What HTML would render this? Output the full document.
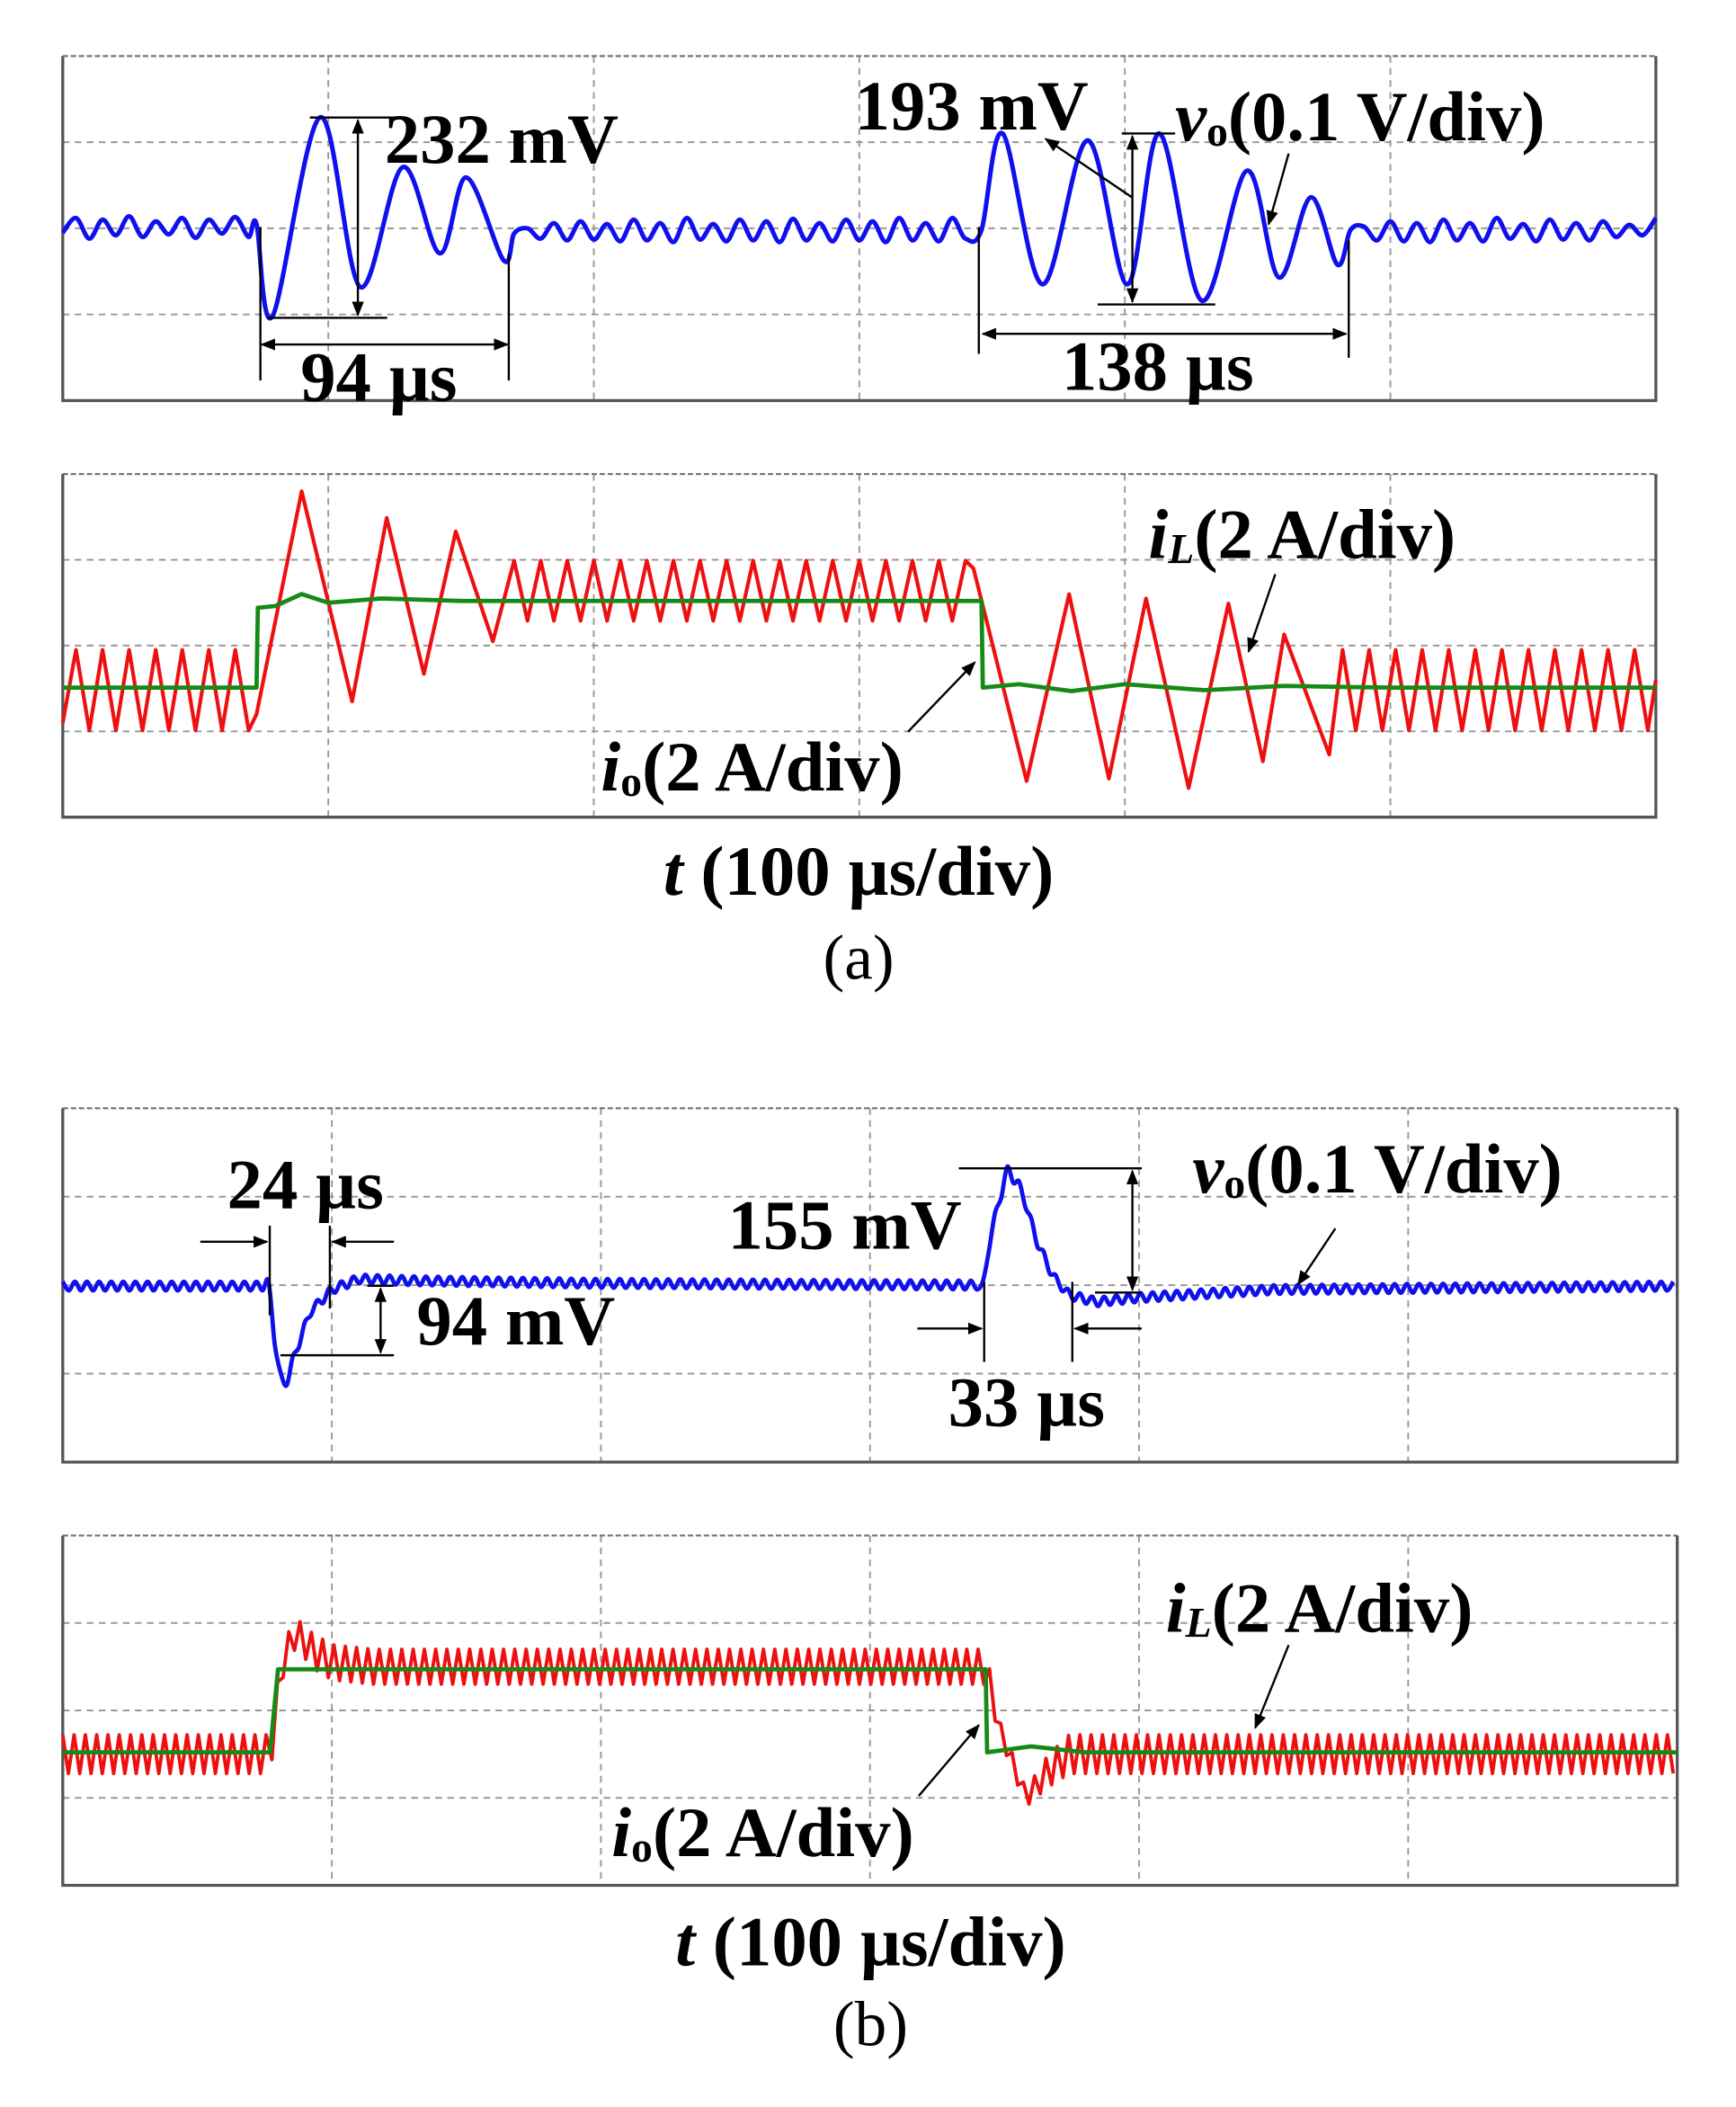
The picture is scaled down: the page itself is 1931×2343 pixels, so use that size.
<!DOCTYPE html>
<html><head><meta charset="utf-8"><style>
html,body{margin:0;padding:0;background:#fff;}
svg{display:block;}
text{font-family:"Liberation Serif",serif;font-weight:bold;fill:#000;}
</style></head><body>
<svg id="fig" width="1931" height="2343" viewBox="0 0 1300 1578" preserveAspectRatio="none" xmlns="http://www.w3.org/2000/svg">
<defs><marker id="ah" viewBox="0 0 10 10" refX="9" refY="5" markerWidth="7" markerHeight="7" orient="auto-start-reverse"><path d="M0,1 L10,5 L0,9 z" fill="#000"/></marker></defs>
<g id="panels"></g>
<g id="ann" stroke="#000" stroke-width="1.6" fill="none">
 <line x1="268" y1="90" x2="268" y2="236" marker-start="url(#ah)" marker-end="url(#ah)"/>
 <line x1="232" y1="88" x2="300" y2="88"/><line x1="200" y1="238" x2="290" y2="238"/>
 <line x1="196" y1="258" x2="380" y2="258" marker-start="url(#ah)" marker-end="url(#ah)"/>
 <line x1="195" y1="170" x2="195" y2="285"/><line x1="381" y1="190" x2="381" y2="285"/>
 <line x1="848" y1="102" x2="848" y2="226" marker-start="url(#ah)" marker-end="url(#ah)"/>
 <line x1="840" y1="100" x2="880" y2="100"/><line x1="822" y1="228" x2="910" y2="228"/>
 <line x1="848" y1="148" x2="783" y2="104" marker-end="url(#ah)"/>
 <line x1="965" y1="115" x2="950" y2="168" marker-end="url(#ah)"/>
 <line x1="736" y1="250" x2="1008" y2="250" marker-start="url(#ah)" marker-end="url(#ah)"/>
 <line x1="733" y1="170" x2="733" y2="265"/><line x1="1010" y1="180" x2="1010" y2="268"/>
 <line x1="955" y1="430" x2="935" y2="488" marker-end="url(#ah)"/>
 <line x1="680" y1="548" x2="730" y2="496" marker-end="url(#ah)"/>
 <line x1="150" y1="930" x2="200" y2="930" marker-end="url(#ah)"/>
 <line x1="295" y1="930" x2="249" y2="930" marker-end="url(#ah)"/>
 <line x1="202" y1="918" x2="202" y2="985"/><line x1="247" y1="918" x2="247" y2="980"/>
 <line x1="285" y1="965" x2="285" y2="1013" marker-start="url(#ah)" marker-end="url(#ah)"/>
 <line x1="275" y1="963" x2="295" y2="963"/><line x1="210" y1="1015" x2="295" y2="1015"/>
 <line x1="848" y1="877" x2="848" y2="966" marker-start="url(#ah)" marker-end="url(#ah)"/>
 <line x1="718" y1="875" x2="855" y2="875"/><line x1="820" y1="968" x2="855" y2="968"/>
 <line x1="687" y1="995" x2="735" y2="995" marker-end="url(#ah)"/>
 <line x1="855" y1="995" x2="805" y2="995" marker-end="url(#ah)"/>
 <line x1="737" y1="960" x2="737" y2="1020"/><line x1="803" y1="960" x2="803" y2="1020"/>
 <line x1="1000" y1="920" x2="972" y2="962" marker-end="url(#ah)"/>
 <line x1="965" y1="1232" x2="940" y2="1294" marker-end="url(#ah)"/>
 <line x1="688" y1="1345" x2="733" y2="1292" marker-end="url(#ah)"/>
</g>
<g id="labels" font-size="53">
 <text x="288" y="122">232 mV</text>
 <text x="225" y="300">94 µs</text>
 <text x="640" y="97">193 mV</text>
 <text x="880" y="105"><tspan style="font-style:italic">v</tspan><tspan font-size="32" dy="4">o</tspan><tspan dy="-4">(0.1 V/div)</tspan></text>
 <text x="795" y="292">138 µs</text>
 <text x="860" y="418"><tspan style="font-style:italic">i</tspan><tspan font-size="32" style="font-style:italic" dy="4">L</tspan><tspan dy="-4">(2 A/div)</tspan></text>
 <text x="450" y="592"><tspan style="font-style:italic">i</tspan><tspan font-size="32" dy="4">o</tspan><tspan dy="-4">(2 A/div)</tspan></text>
 <text x="643" y="670" text-anchor="middle"><tspan style="font-style:italic">t</tspan> (100 µs/div)</text>
 <text x="643" y="733" text-anchor="middle" style="font-weight:normal" font-size="48">(a)</text>
 <text x="170" y="905">24 µs</text>
 <text x="312" y="1007">94 mV</text>
 <text x="545" y="935">155 mV</text>
 <text x="710" y="1068">33 µs</text>
 <text x="893" y="893"><tspan style="font-style:italic">v</tspan><tspan font-size="32" dy="4">o</tspan><tspan dy="-4">(0.1 V/div)</tspan></text>
 <text x="873" y="1222"><tspan style="font-style:italic">i</tspan><tspan font-size="32" style="font-style:italic" dy="4">L</tspan><tspan dy="-4">(2 A/div)</tspan></text>
 <text x="458" y="1390"><tspan style="font-style:italic">i</tspan><tspan font-size="32" dy="4">o</tspan><tspan dy="-4">(2 A/div)</tspan></text>
 <text x="652" y="1472" text-anchor="middle"><tspan style="font-style:italic">t</tspan> (100 µs/div)</text>
 <text x="652" y="1532" text-anchor="middle" style="font-weight:normal" font-size="48">(b)</text>
</g>
</svg>
<script>
const voA_t=[0,5,10,15,20,25,30,35,40,45,50,55,60,65,70,73,79,97,112,128,142,152,166,170,175,180,185,190,195,200,205,210,215,220,225,230,235,240,245,250,255,260,265,270,275,280,285,290,295,300,305,310,315,320,325,330,335,340,346,354,369,386,401,413,429,446,458,470,480,485,490,495,500,505,510,515,520,525,530,535,540,545,550,555,560,565,570,575,580,585,590,595,600];
const voA_v=[1.95,2.12,1.88,2.10,1.92,2.14,1.90,2.08,1.93,2.12,1.89,2.10,1.94,2.13,1.90,2.05,0.98,3.29,1.32,2.71,1.71,2.59,1.63,1.94,2.00,1.88,2.06,1.86,2.08,1.87,2.05,1.85,2.10,1.86,2.06,1.84,2.12,1.87,2.05,1.85,2.10,1.86,2.08,1.84,2.11,1.86,2.06,1.85,2.10,1.86,2.08,1.84,2.12,1.86,2.06,1.85,2.12,1.88,1.98,3.10,1.35,3.02,1.35,3.10,1.16,2.67,1.43,2.36,1.58,1.98,2.02,1.86,2.08,1.85,2.06,1.84,2.10,1.86,2.06,1.85,2.12,1.88,2.05,1.85,2.10,1.87,2.06,1.86,2.08,1.90,2.04,1.92,2.12];
const ilA_t=[0,5,10,15,20,25,30,35,40,45,50,55,60,65,70,73,90,109,122,136,148,162,170,175,180,185,190,195,200,205,210,215,220,225,230,235,240,245,250,255,260,265,270,275,280,285,290,295,300,305,310,315,320,325,330,335,340,343,363,379,394,408,424,439,452,460,477,482,487,492,497,502,507,512,517,522,527,532,537,542,547,552,557,562,567,572,577,582,587,592,597,600];
const ilA_v=[1.1,1.95,1.01,1.95,1.01,1.95,1.01,1.95,1.01,1.95,1.01,1.95,1.01,1.95,1.01,1.2,3.80,1.35,3.49,1.67,3.33,2.05,2.99,2.29,2.99,2.29,2.99,2.29,2.99,2.29,2.99,2.29,2.99,2.29,2.99,2.29,2.99,2.29,2.99,2.29,2.99,2.29,2.99,2.29,2.99,2.29,2.99,2.29,2.99,2.29,2.99,2.29,2.99,2.29,2.99,2.29,2.99,2.9,0.42,2.60,0.45,2.55,0.34,2.49,0.65,2.13,0.73,1.95,1.01,1.95,1.01,1.95,1.01,1.95,1.01,1.95,1.01,1.95,1.01,1.95,1.01,1.95,1.01,1.95,1.01,1.95,1.01,1.95,1.01,1.95,1.01,1.6];
const ioA_t=[0,73,73.5,80,90,100,120,150,200,300,346,346.5,360,380,400,430,460,500,600];
const ioA_v=[1.51,1.51,2.44,2.46,2.6,2.5,2.55,2.52,2.52,2.52,2.52,1.51,1.55,1.47,1.55,1.48,1.53,1.51,1.51];
const voB_t=[0,77,79,82,86,92,100,110,130,200,342,345,351,356,362,368,374,384,400,450,600];
const voB_v=[1.99,1.99,1.3,0.79,1.2,1.7,1.95,2.07,2.05,2.02,2.0,2.6,3.29,3.1,2.5,2.1,1.89,1.81,1.86,1.95,1.99];
const ilB_t=[0,77,82,87,92,100,115,140,343,348,358,366,374,600];
const ilB_v=[1.5,1.5,2.6,2.9,2.7,2.55,2.5,2.5,2.5,1.8,1.0,1.3,1.5,1.5];
const ilB_amp=[0.22,0.22,0.2,0.15,0.2,0.2,0.2,0.2,0.2,0.1,0.1,0.18,0.22,0.22];
const ioB_t=[0,77,80,200,343,343.5,360,380,600];
const ioB_v=[1.52,1.52,2.47,2.47,2.47,1.52,1.59,1.52,1.52];

const NS='http://www.w3.org/2000/svg';
const G=document.getElementById('panels');
const P={a1:{x0:47,x1:1240,y0:42,y1:300},a2:{x0:47,x1:1240,y0:355,y1:612},b1:{x0:47,x1:1256,y0:830,y1:1095},b2:{x0:47,x1:1256,y0:1150,y1:1412}};
function xs(p,t){return p.x0+(p.x1-p.x0)*t/600;}
function ys(p,v){return p.y1-(p.y1-p.y0)*v/4;}
function mk(tag,attrs){const e=document.createElementNS(NS,tag);for(const k in attrs)e.setAttribute(k,attrs[k]);return e;}
function interp(ts,vs,t){for(let i=1;i<ts.length;i++){if(t<=ts[i]){const f=(t-ts[i-1])/(ts[i]-ts[i-1]||1);return vs[i-1]+f*(vs[i]-vs[i-1]);}}return vs[vs.length-1];}
function frame(key){
  const p=P[key];
  for(let i=1;i<6;i++){const x=xs(p,i*100);const l=mk('line',{x1:x,y1:p.y0,x2:x,y2:p.y1,stroke:'#999','stroke-width':1.3,'stroke-dasharray':'5,4'});
    
    G.appendChild(l);}
  for(let i=1;i<4;i++){const y=ys(p,i);const l=mk('line',{x1:p.x0,y1:y,x2:p.x1,y2:y,stroke:'#999','stroke-width':1.3,'stroke-dasharray':'5,4'});
    
    G.appendChild(l);}
  const t=mk('line',{x1:p.x0,y1:p.y0,x2:p.x1,y2:p.y0,stroke:'#777','stroke-width':1.5,'stroke-dasharray':'4,2'});
  
  G.appendChild(t);
  const r=mk('path',{d:`M${p.x0},${p.y0}V${p.y1}H${p.x1}V${p.y0}`,fill:'none',stroke:'#555','stroke-width':2.2});
  
  G.appendChild(r);
}
function smoothPath(pts){
  let d=`M${pts[0][0].toFixed(1)},${pts[0][1].toFixed(1)}`;
  for(let i=0;i<pts.length-1;i++){
    const p0=pts[Math.max(0,i-1)],p1=pts[i],p2=pts[i+1],p3=pts[Math.min(pts.length-1,i+2)];
    const c1=[p1[0]+(p2[0]-p0[0])/6,p1[1]+(p2[1]-p0[1])/6],c2=[p2[0]-(p3[0]-p1[0])/6,p2[1]-(p3[1]-p1[1])/6];
    d+=`C${c1[0].toFixed(1)},${c1[1].toFixed(1)} ${c2[0].toFixed(1)},${c2[1].toFixed(1)} ${p2[0].toFixed(1)},${p2[1].toFixed(1)}`;
  }
  return d;
}
function line(key,ts,vs,color,w,name,smooth){
  const p=P[key];const pts=ts.map((t,i)=>[xs(p,t),ys(p,vs[i])]);
  const d=smooth?smoothPath(pts):'M'+pts.map(q=>q[0].toFixed(1)+','+q[1].toFixed(1)).join('L');
  const e=mk('path',{d:d,fill:'none',stroke:color,'stroke-width':w,'stroke-linejoin':'round'});
  
  G.appendChild(e);
}
function ripple(key,ts,vs,amps,per,color,w,name,smooth){
  const p=P[key];const pts=[];let s=1;
  for(let t=0;t<=600;t+=per/2){const c=interp(ts,vs,t);const a=amps?interp(ts,amps,t):0.05;pts.push([xs(p,t),ys(p,c+s*a)]);s=-s;}
  const d=smooth?smoothPath(pts):'M'+pts.map(q=>q[0].toFixed(1)+','+q[1].toFixed(1)).join('L');
  const e=mk('path',{d:d,fill:'none',stroke:color,'stroke-width':w,'stroke-linejoin':'round'});
  
  G.appendChild(e);
}
['a1','a2','b1','b2'].forEach(frame);
line('a1',voA_t,voA_v,'#1010ee',3.4,'vo-trace-a',true);
line('a2',ilA_t,ilA_v,'#ee1010',2.8,'il-trace-a',false);
line('a2',ioA_t,ioA_v,'#168a16',3.2,'io-trace-a',false);
ripple('b1',voB_t,voB_v,null,4.5,'#1010ee',3.2,'vo-trace-b',true);
ripple('b2',ilB_t,ilB_v,ilB_amp,4.2,'#ee1010',2.6,'il-trace-b',false);
line('b2',ioB_t,ioB_v,'#168a16',3.2,'io-trace-b',false);
</script>
</body></html>
